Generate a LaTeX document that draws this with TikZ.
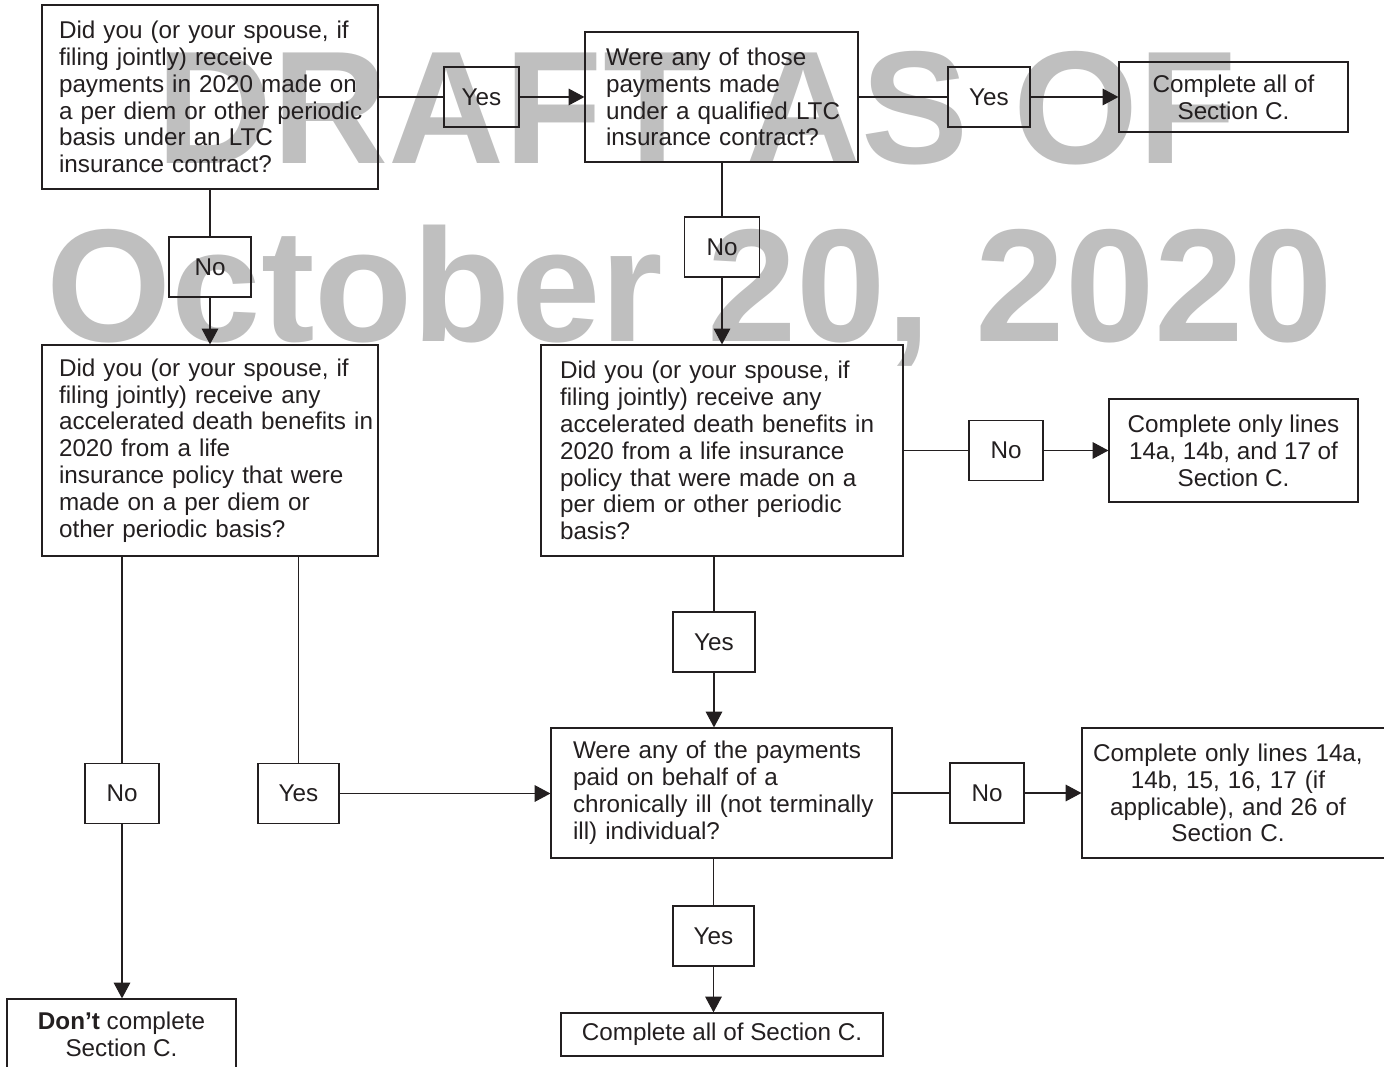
\documentclass[tikz,border=0pt]{standalone}
\usepackage{fontspec}
\setmainfont{Liberation Sans}
\usetikzlibrary{arrows.meta}
\definecolor{ink}{HTML}{231F20}
\definecolor{stamp}{HTML}{BFBFBF}

\begin{document}
\begin{tikzpicture}
[x=0.02cm, y=-0.02cm, ->, >={Triangle[length=9pt,width=9.5pt]},
line width=0.6pt, draw=ink, text=ink,
font=\fontsize{13.8}{15.3}\selectfont,
ask/.style={draw, line width=0.7pt, align=left, inner sep=0pt, text width=#1,
  execute at begin node={\rightskip=0pt plus 1fil minus 3cm}},
result/.style={draw, line width=0.7pt, align=center, inner sep=0pt},
answer/.style={draw, line width=0.7pt, inner sep=0pt, minimum height=1.2cm, minimum width=#1},
watermark/.style={stamp, anchor=base, inner sep=0pt, font=\fontsize{91.5}{100}\selectfont\bfseries}]
\useasboundingbox (0,0) rectangle (1384,1067);
\clip (0,0) rectangle (1384,1067);

% watermark behind everything
\node (wm1) at (697,164) [watermark] {DRAFT AS OF};
\node (wm2) at (690,342) [watermark] {October 20, 2020};

% questions
\node (q1) at (210,97) [ask=6.04cm, minimum width=6.72cm, minimum height=3.68cm] {Did you (or your spouse, if\\ filing jointly) receive\\ payments in 2020 made on\\ a per diem or other periodic\\ basis under an LTC\\ insurance contract?};
\node (q2) at (721.5,97) [ask=4.62cm, minimum width=5.46cm, minimum height=2.6cm] {Were any of those\\ payments made\\ under a qualified LTC\\ insurance contract?};
\node (q3) at (210,450.5) [ask=6.04cm, minimum width=6.72cm, minimum height=4.22cm] {Did you (or your spouse, if\\ filing jointly) receive any\\ accelerated death benefits in\\ 2020 from a life\\ insurance policy that were\\ made on a per diem or\\ other periodic basis?};
\node (q4) at (722,450.5) [ask=6.48cm, minimum width=7.24cm, minimum height=4.22cm] {Did you (or your spouse, if\\ filing jointly) receive any\\ accelerated death benefits in\\ 2020 from a life insurance\\ policy that were made on a\\ per diem or other periodic\\ basis?};
\node (q5) at (721.5,793) [ask=5.94cm, minimum width=6.82cm, minimum height=2.6cm] {Were any of the payments\\ paid on behalf of a\\ chronically ill (not terminally\\ ill) individual?};

% outcomes
\node (end1) at (1233.5,97) [result, minimum width=4.58cm, minimum height=1.4cm] {Complete all of\\ Section C.};
\node (end2) at (1233.5,450.5) [result, minimum width=4.98cm, minimum height=2.06cm] {Complete only lines\\ 14a, 14b, and 17 of\\ Section C.};
\node (end3) at (1237,793) [result, text width=6cm, minimum width=6.2cm, minimum height=2.6cm,
  execute at begin node={\leftskip=0pt plus 1fil\rightskip=0.36cm plus 1fil\parfillskip=0pt}] {Complete only lines 14a,\\ 14b, 15, 16, 17 (if\\ applicable), and 26 of\\ Section C.};
\node (end4) at (722,1034.5) [result, minimum width=6.44cm, minimum height=0.86cm] {Complete all of Section C.};
\node (end5) at (121.5,1034) [result, minimum width=4.58cm, minimum height=1.4cm] {\textbf{Don't} complete\\ Section C.};

% answers
\node (yes1) at (481.5,97) [answer=1.5cm] {Yes};
\node (yes2) at (989,97) [answer=1.64cm] {Yes};
\node (no1) at (210,267) [answer=1.64cm] {No};
\node (no2) at (722,247) [answer=1.5cm] {No};
\node (no3) at (1006,450.5) [answer=1.48cm] {No};
\node (yes3) at (714,642) [answer=1.64cm] {Yes};
\node (no4) at (987,793) [answer=1.48cm] {No};
\node (yes4) at (713.5,936) [answer=1.62cm] {Yes};
\node (no5) at (122,793.5) [answer=1.48cm] {No};
\node (yes5) at (298.5,793.5) [answer=1.62cm] {Yes};

\draw[-] (q1) -- (yes1);
\draw (yes1) -- (q2);
\draw[-] (q2) -- (yes2);
\draw (yes2) -- (end1);
\draw[-] (q1) -- (no1);
\draw (no1) -- (q3);
\draw[-] (q2.south -| no2) -- (no2);
\draw (no2) -- (no2 |- q4.north);
\draw[-] (q4) -- (no3);
\draw (no3) -- (end2);
\draw[-] (q4.south -| yes3) -- (yes3);
\draw (yes3) -- (yes3 |- q5.north);
\draw[-] (q5) -- (no4);
\draw (no4) -- (end3);
\draw[-] (q5.south -| yes4) -- (yes4);
\draw (yes4) -- (yes4 |- end4.north);
\draw[-] (q3.south -| no5) -- (no5);
\draw (no5) -- (no5 |- end5.north);
\draw[-] (q3.south -| yes5) -- (yes5);
\draw (yes5) -- (yes5 -| q5.west);

\end{tikzpicture}
\end{document}
